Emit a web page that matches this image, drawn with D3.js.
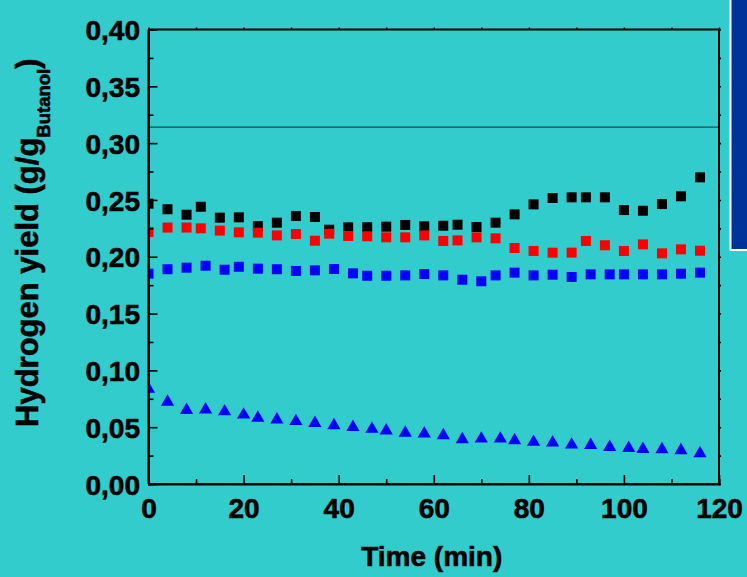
<!DOCTYPE html>
<html>
<head>
<meta charset="utf-8">
<script src="https://cdn.jsdelivr.net/npm/d3@7/dist/d3.min.js"></script>
<style>
  html, body { margin: 0; padding: 0; background: #33cccc; }
  svg { display: block; }
  text { font-family: "Liberation Sans", Arial, sans-serif; font-weight: bold; fill: #000; }
</style>
</head>
<body>
<svg id="chart" width="747" height="577"></svg>
<script>
// Sampling times (min) for each series
const timesBlackRed = [0,4,8,11,15,19,23,27,31,35,38,42,46,50,54,58,62,65,69,73,77,81,85,89,92,96,100,104,108,112,116];
const timesBlueSq   = [0,4,8,12,16,19,23,27,31,35,39,43,46,50,54,58,62,66,70,73,77,81,85,89,93,97,100,104,108,112,116];
const timesTriangle = [0,4,8,12,16,20,23,27,31,35,39,43,47,50,54,58,62,66,70,74,77,81,85,89,93,97,101,104,108,112,116];

// Hydrogen yield (g/g butanol)
const yieldBlack = [0.2467,0.2418,0.2370,0.2440,0.2344,0.2347,0.2270,0.2300,0.2359,0.2350,0.2238,0.2259,0.2260,0.2265,0.2280,0.2268,0.2273,0.2282,0.2262,0.2300,0.2373,0.2461,0.2517,0.2523,0.2523,0.2523,0.2411,0.2405,0.2464,0.2532,0.2699];
const yieldRed   = [0.2218,0.2257,0.2257,0.2250,0.2230,0.2215,0.2212,0.2188,0.2200,0.2141,0.2203,0.2183,0.2180,0.2171,0.2171,0.2188,0.2139,0.2144,0.2171,0.2162,0.2077,0.2051,0.2036,0.2036,0.2139,0.2101,0.2051,0.2109,0.2030,0.2065,0.2053];
const yieldBlue  = [0.1851,0.1890,0.1904,0.1921,0.1886,0.1912,0.1895,0.1890,0.1875,0.1880,0.1892,0.1854,0.1833,0.1833,0.1836,0.1848,0.1836,0.1798,0.1784,0.1836,0.1860,0.1836,0.1842,0.1822,0.1845,0.1845,0.1845,0.1845,0.1845,0.1851,0.1860];
const yieldTri   = [0.0852,0.0738,0.0666,0.0670,0.0654,0.0625,0.0598,0.0582,0.0568,0.0552,0.0532,0.0516,0.0500,0.0486,0.0465,0.0459,0.0443,0.0409,0.0414,0.0414,0.0399,0.0385,0.0380,0.0361,0.0358,0.0340,0.0331,0.0323,0.0321,0.0311,0.0285];

// Reference yield level
const referenceYield = [0.314];

// Axis ticks
const xTicks = [0,20,40,60,80,100,120];
const xMinorTicks = [10,30,50,70,90,110];
const yTicks = [0,0.05,0.10,0.15,0.20,0.25,0.30,0.35,0.40];
const yMinorTicks = [0.025,0.075,0.125,0.175,0.225,0.275,0.325,0.375];

const svg = d3.select("#chart");
const W = 747, H = 577;
const plot = { left: 148.5, right: 719, top: 29.5, bottom: 484 };

svg.append("rect").attr("width", W).attr("height", H).attr("fill", "#33cccc");

const x = d3.scaleLinear().domain([0, 120]).range([plot.left, plot.right]);
const y = d3.scaleLinear().domain([0, 0.40]).range([plot.bottom, plot.top]);

const locale = d3.formatLocale({ decimal: ",", thousands: ".", grouping: [3], currency: ["", ""] });
const fmtY = locale.format(".2f");

// Clip markers to the plot frame
svg.append("defs").append("clipPath").attr("id", "plotClip")
  .append("rect")
  .attr("x", plot.left).attr("y", plot.top)
  .attr("width", plot.right - plot.left).attr("height", plot.bottom - plot.top);

// Reference line
svg.append("g").selectAll("line").data(referenceYield).join("line")
  .attr("x1", plot.left).attr("x2", plot.right)
  .attr("y1", d => y(d)).attr("y2", d => y(d))
  .attr("stroke", "#1d4a4a").attr("stroke-width", 1.3);

// Markers
const marks = svg.append("g").attr("clip-path", "url(#plotClip)");
const sq = 10;
function squares(times, vals, color) {
  marks.append("g").selectAll("rect").data(times.map((t, i) => [t, vals[i]])).join("rect")
    .attr("x", d => x(d[0]) - sq / 2).attr("y", d => y(d[1]) - sq / 2)
    .attr("width", sq).attr("height", sq)
    .attr("fill", color);
}
squares(timesBlackRed, yieldBlack, "#000000");
squares(timesBlackRed, yieldRed, "#ff0000");
squares(timesBlueSq, yieldBlue, "#0000ff");

const triPath = "M0,-5.8L6.6,5.6L-6.6,5.6Z";
marks.append("g").selectAll("path").data(timesTriangle.map((t, i) => [t, yieldTri[i]])).join("path")
  .attr("d", triPath)
  .attr("transform", d => `translate(${x(d[0])},${y(d[1])})`)
  .attr("fill", "#0000ff");

// Axes
const axisColor = "#000";
const bottomAxis = svg.append("g").attr("transform", `translate(0,${plot.bottom})`);
bottomAxis.call(d3.axisBottom(x).tickValues(xTicks).tickSize(-9).tickPadding(14).tickFormat(d3.format("d")));
bottomAxis.append("g").call(d3.axisBottom(x).tickValues(xMinorTicks).tickSize(-5).tickFormat(""));

const leftAxis = svg.append("g").attr("transform", `translate(${plot.left},0)`);
leftAxis.call(d3.axisLeft(y).tickValues(yTicks).tickSize(-9).tickPadding(8.5).tickFormat(fmtY));
leftAxis.append("g").call(d3.axisLeft(y).tickValues(yMinorTicks).tickSize(-5).tickFormat(""));

const topAxis = svg.append("g").attr("transform", `translate(0,${plot.top})`);
topAxis.call(d3.axisTop(x).tickValues(xTicks.concat(xMinorTicks)).tickSize(2).tickFormat(""));

const rightAxis = svg.append("g").attr("transform", `translate(${plot.right},0)`);
rightAxis.call(d3.axisRight(y).tickValues(yTicks.concat(yMinorTicks)).tickSize(2).tickFormat(""));

svg.selectAll(".domain").attr("stroke", axisColor).attr("stroke-width", 2);
svg.selectAll(".tick line").attr("stroke", axisColor).attr("stroke-width", 1.6);
svg.selectAll(".tick text")
  .attr("fill", "#000")
  .attr("stroke", "#000").attr("stroke-width", 0.6)
  .style("font-family", '"Liberation Sans", Arial, sans-serif')
  .style("font-weight", "bold")
  .style("font-size", "28px");
leftAxis.selectAll(".tick text").attr("dy", "0.36em");

// Plain frame edges without end caps
bottomAxis.select(".domain").attr("d", `M${plot.left},0H${plot.right}`);
leftAxis.select(".domain").attr("d", `M0,${plot.bottom}V${plot.top}`);
topAxis.select(".domain").attr("d", `M${plot.left},0H${plot.right}`);
rightAxis.select(".domain").attr("d", `M0,${plot.bottom}V${plot.top}`);

// Axis titles
svg.append("text")
  .attr("x", (plot.left + plot.right) / 2 - 2).attr("y", 566)
  .attr("text-anchor", "middle")
  .attr("stroke", "#000").attr("stroke-width", 0.6)
  .style("font-size", "28px")
  .text("Time (min)");

const yTitle = svg.append("text")
  .attr("transform", "translate(38,427) rotate(-90)")
  .attr("text-anchor", "start")
  .attr("stroke", "#000").attr("stroke-width", 0.6)
  .style("font-size", "31px");
yTitle.append("tspan").text("Hydrogen yield (g/g");
yTitle.append("tspan").attr("dy", 12).style("font-size", "18.5px").text("Butanol");
yTitle.append("tspan").attr("dy", -12).style("font-size", "31px").text(")");

// Legend panel at the upper right
svg.append("rect")
  .attr("x", 730.5).attr("y", -5)
  .attr("width", 30).attr("height", 255)
  .attr("fill", "#003399")
  .attr("stroke", "#ffffff").attr("stroke-width", 2);
</script>
</body>
</html>
